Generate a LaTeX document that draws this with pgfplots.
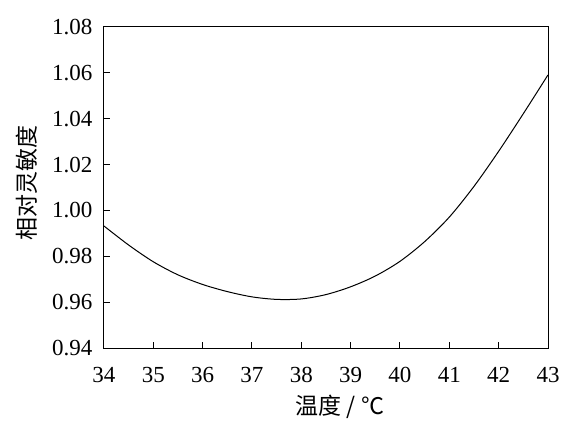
\documentclass[border=0pt]{standalone}
\usepackage{pgfplots}
\pgfplotsset{compat=1.18}
\usepackage{fontspec}
\setmainfont{Liberation Serif}
\newfontfamily\cjk{Noto Sans CJK SC}

\begin{document}
\begin{tikzpicture}
  \begin{axis}[
    scale only axis,
    width=444bp,
    height=321bp,
    xmin=34, xmax=43,
    ymin=0.94, ymax=1.08,
    xtick={34,35,...,43},
    ytick={0.94,0.96,...,1.08},
    tick pos=left,
    tick align=inside,
    major tick length=6bp,
    axis line style={line width=1bp},
    tick style={line width=1bp, black},
    /pgf/number format/assume math mode=true,
    font=\fontsize{23bp}{26bp}\selectfont,
    yticklabel style={
      /pgf/number format/fixed,
      /pgf/number format/fixed zerofill,
      /pgf/number format/precision=2,
      xshift=-8bp},
    xticklabel style={yshift=-16bp},
    xlabel={\cjk 温度 / ℃},
    ylabel={\cjk 相对灵敏度},
    xlabel style={font=\fontsize{23bp}{26bp}\selectfont, yshift=-5bp, xshift=14bp},
    ylabel style={font=\fontsize{23bp}{26bp}\selectfont, yshift=8bp, xshift=4bp},
    ]
    \addplot[black, line width=1bp, smooth, mark=none]
    coordinates {
      (34.0, 0.9932)
      (34.5, 0.9849)
      (35.0, 0.9776)
      (35.5, 0.9719)
      (36.0, 0.9677)
      (36.5, 0.9646)
      (37.0, 0.9623)
      (37.5, 0.9612)
      (38.0, 0.9614)
      (38.5, 0.9633)
      (39.0, 0.9667)
      (39.5, 0.9714)
      (40.0, 0.9778)
      (40.5, 0.9864)
      (41.0, 0.9971)
      (41.5, 1.0105)
      (42.0, 1.0258)
      (42.5, 1.0422)
      (43.0, 1.0591)
    };
  \end{axis}
  \pgfresetboundingbox
  \useasboundingbox ([shift={(-104bp,-84bp)}]current axis.south west)
    rectangle ([shift={(25bp,27bp)}]current axis.north east);
\end{tikzpicture}
\end{document}
